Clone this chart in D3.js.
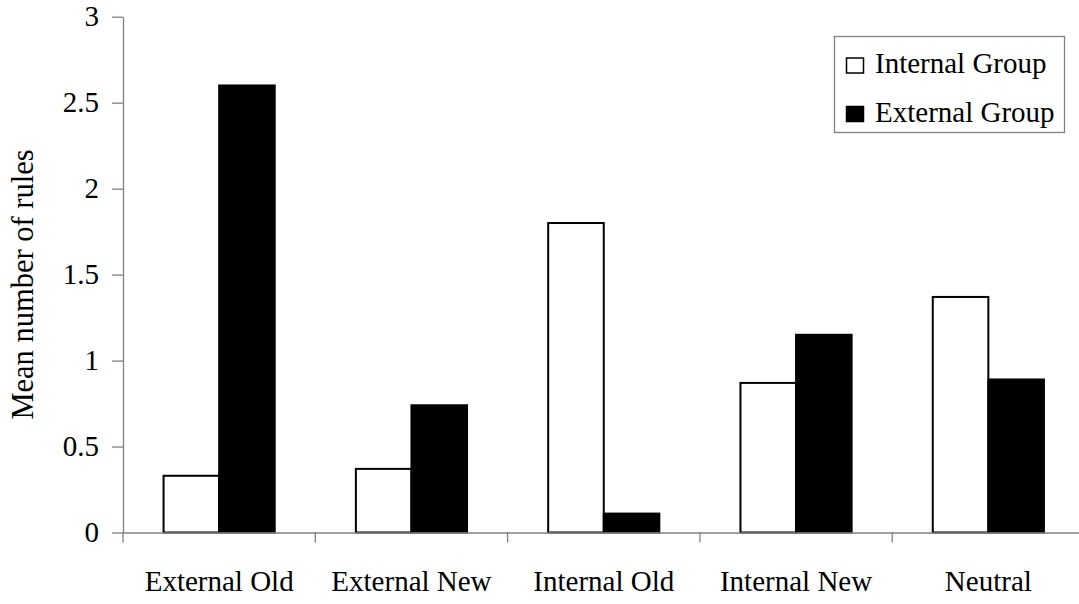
<!DOCTYPE html>
<html>
<head>
<meta charset="utf-8">
<script src="https://cdn.jsdelivr.net/npm/d3@7"></script>
<style>
  body { margin: 0; background: #fff; }
  text { font-family: "Liberation Serif", "Times New Roman", serif; }
</style>
</head>
<body>
<svg id="chart"></svg>
<script>
const categories = ["External Old", "External New", "Internal Old", "Internal New", "Neutral"];
const series = ["Internal Group", "External Group"];
const internalGroup = [0.33, 0.37, 1.8, 0.87, 1.37];
const externalGroup = [2.6, 0.74, 0.11, 1.15, 0.89];
const yTicks = [0, 0.5, 1, 1.5, 2, 2.5, 3];
const fills = ["#ffffff", "#000000"];

const width = 1079, height = 604;
const axisColor = "#808080";
const fontSize = 29;

const svg = d3.select("#chart").attr("width", width).attr("height", height);

const y = d3.scaleLinear().domain([0, 3]).range([532.5, 16.7]);
const x0 = d3.scaleBand().domain(categories).range([123, 1084.5]).paddingInner(0).paddingOuter(0);
const x1 = d3.scaleBand().domain(series).range([0, x0.bandwidth()]).paddingInner(0).paddingOuter(0.73);
const color = d3.scaleOrdinal().domain(series).range(fills);

const rows = categories.map((c, i) => ({ cat: c, values: [internalGroup[i], externalGroup[i]] }));

// bars
const groups = svg.append("g").selectAll("g")
    .data(rows)
    .join("g")
    .attr("transform", d => `translate(${x0(d.cat)},0)`);

groups.selectAll("rect")
    .data(d => series.map((s, j) => ({ s: s, v: d.values[j] })))
    .join("rect")
    .attr("x", d => x1(d.s))
    .attr("y", d => y(d.v))
    .attr("width", x1.bandwidth())
    .attr("height", d => y(0) - y(d.v))
    .attr("fill", d => color(d.s))
    .attr("stroke", "#000")
    .attr("stroke-width", 2);

// y axis
const yAxis = svg.append("g")
    .attr("transform", "translate(123,0)")
    .call(d3.axisLeft(y).tickValues(yTicks).tickFormat(d3.format("")).tickSize(11).tickSizeOuter(0).tickPadding(13));
yAxis.select(".domain").attr("stroke", axisColor).attr("stroke-width", 1.3);
yAxis.selectAll(".tick line").attr("stroke", axisColor).attr("stroke-width", 1.3);
yAxis.selectAll("text").attr("font-size", fontSize).attr("fill", "#000")
    .attr("font-family", "Liberation Serif, Times New Roman, serif");

// x axis
const xAxis = svg.append("g")
    .attr("transform", `translate(0,${y(0)})`)
    .call(d3.axisBottom(x0).tickSize(0).tickSizeOuter(0));
xAxis.select(".domain").attr("stroke", axisColor).attr("stroke-width", 1.3);
xAxis.selectAll("text").attr("font-size", fontSize).attr("fill", "#000")
    .attr("y", 58.5).attr("dy", 0)
    .attr("font-family", "Liberation Serif, Times New Roman, serif");

// boundary ticks between categories
const bounds = categories.map(c => x0(c)).concat([x0(categories[categories.length - 1]) + x0.bandwidth()]);
xAxis.selectAll(".bound")
    .data(bounds)
    .join("line")
    .attr("class", "bound")
    .attr("x1", d => d).attr("x2", d => d)
    .attr("y1", 0).attr("y2", 10)
    .attr("stroke", axisColor).attr("stroke-width", 1.3);

// y title
svg.append("text")
    .attr("transform", "rotate(-90)")
    .attr("x", -284.5)
    .attr("y", 33)
    .attr("text-anchor", "middle")
    .attr("font-size", 30.5)
    .text("Mean number of rules");

// legend
const legend = svg.append("g").attr("transform", "translate(834.5,36.5)");
legend.append("rect")
    .attr("width", 230).attr("height", 96)
    .attr("fill", "#fff").attr("stroke", axisColor).attr("stroke-width", 1.3);

const items = legend.selectAll(".item")
    .data(series)
    .join("g")
    .attr("class", "item")
    .attr("transform", (d, i) => `translate(0,${i * 48.5})`);

items.append("rect")
    .attr("x", 12).attr("y", 21.5)
    .attr("width", 17).attr("height", 15)
    .attr("fill", d => color(d))
    .attr("stroke", "#000").attr("stroke-width", 1.5);

items.append("text")
    .attr("x", 40.5).attr("y", 36.5)
    .attr("font-size", fontSize)
    .text(d => d);
</script>
</body>
</html>
